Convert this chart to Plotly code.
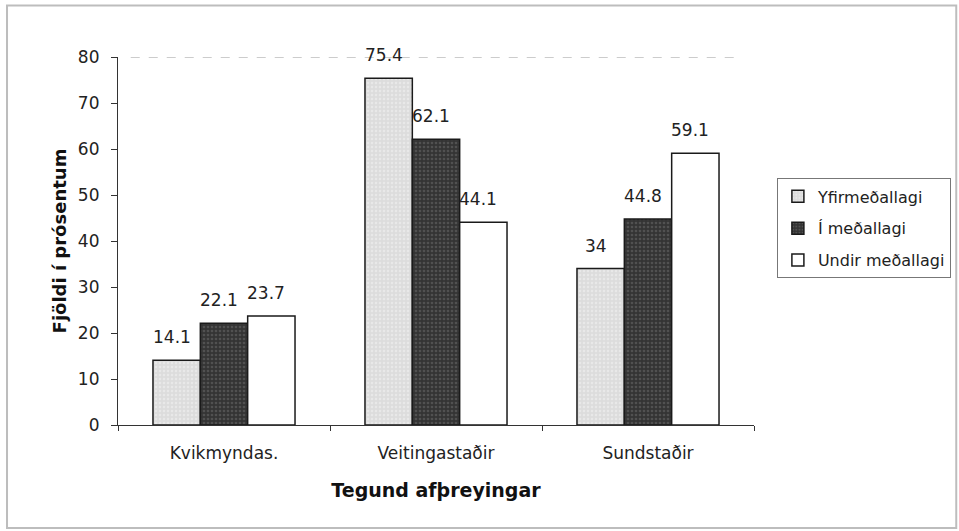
import plotly.graph_objects as go

categories = ["Kvikmyndas.", "Veitingastaðir", "Sundstaðir"]
series_names = ["Yfirmeðallagi", "Í meðallagi", "Undir meðallagi"]
yfir = [14.1, 75.4, 34]
i_medal = [22.1, 62.1, 44.8]
undir = [23.7, 44.1, 59.1]

series_values = [yfir, i_medal, undir]
fills = ["#e4e4e4", "#3b3b3b", "#ffffff"]
patterns = [
    dict(shape=".", fgcolor="#f4f4f4", bgcolor="#dcdcdc", size=4, solidity=0.3),
    dict(shape=".", fgcolor="#6e6e6e", bgcolor="#343434", size=4, solidity=0.35),
    dict(shape=""),
]

FONT = "DejaVu Sans, Liberation Sans, Arial, sans-serif"

fig = go.Figure()
for name, vals, col, pat in zip(series_names, series_values, fills, patterns):
    fig.add_trace(go.Bar(
        x=categories, y=vals, name=name, legendgroup=name,
        marker=dict(color=col, pattern=pat, line=dict(color="#1a1a1a", width=1.5)),
    ))

# value labels above each bar
offsets = [-1, 0, 1]
annotations = []
for k, vals in enumerate(series_values):
    for ci, v in enumerate(vals):
        annotations.append(dict(
            x=ci + offsets[k] * 0.223, y=v, xref="x", yref="y",
            text=f"{v:g}", showarrow=False, yanchor="bottom",
            yshift=11, xshift=-5,
            font=dict(family=FONT, size=17, color="#222222"),
        ))

fig.update_layout(
    width=959, height=531,
    margin=dict(l=118, r=205, t=57, b=106, autoexpand=False),
    paper_bgcolor="white", plot_bgcolor="white",
    barmode="group", bargap=0.33, bargroupgap=0,
    font=dict(family=FONT, size=17, color="#222222"),
    showlegend=True,
    legend=dict(
        x=1.036, y=0.67, xanchor="left", yanchor="top",
        bgcolor="white", bordercolor="#777777", borderwidth=1,
        font=dict(family=FONT, size=16, color="#222222"),
        tracegroupgap=8, itemwidth=30,
    ),
    annotations=annotations,
    shapes=[
        # outer frame
        dict(type="rect", xref="paper", yref="paper",
             x0=-0.1745, x1=1.318, y0=-0.28, y1=1.14,
             line=dict(color="#bdbdbd", width=2)),
        # faint dashed top edge of plot area
        dict(type="line", xref="paper", yref="y", x0=0.02, x1=0.975, y0=80, y1=80,
             line=dict(color="#9a9a9a", width=1, dash="dash")),
    ],
    xaxis=dict(
        title=dict(text="Tegund afþreyingar", font=dict(family=FONT, size=19, color="#111111", weight="bold"), standoff=22),
        showline=True, linecolor="#333333", linewidth=1.2,
        ticks="outside", tickson="boundaries", ticklen=5, tickcolor="#333333",
        tickfont=dict(family=FONT, size=17), showgrid=False, ticklabelstandoff=12,
    ),
    yaxis=dict(
        title=dict(text="Fjöldi í prósentum", font=dict(family=FONT, size=18, color="#111111", weight="bold"), standoff=6),
        range=[0, 80], dtick=10, showline=True, linecolor="#333333", linewidth=1.2,
        ticks="outside", ticklen=6, tickcolor="#333333",
        tickfont=dict(family=FONT, size=17), showgrid=False, zeroline=False,
        ticklabelstandoff=8,
    ),
)

fig.write_html("out.html")
